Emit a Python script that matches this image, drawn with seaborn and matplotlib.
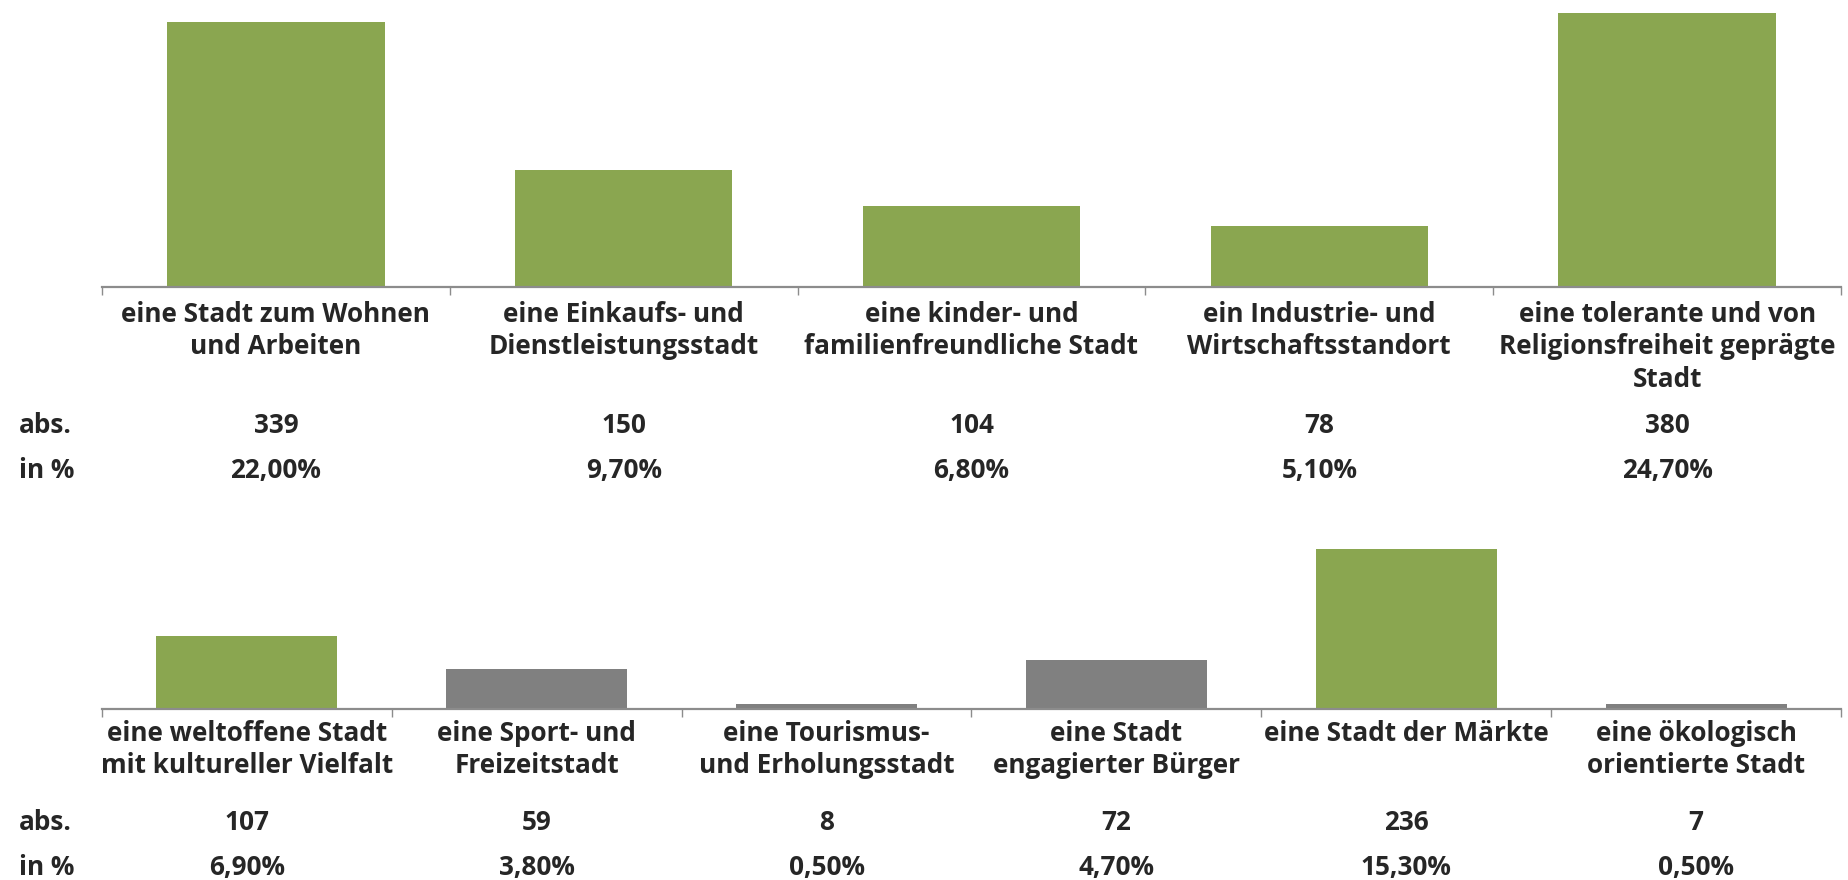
import matplotlib
matplotlib.use("Agg")
import matplotlib.pyplot as plt
import seaborn as sns
import pandas as pd
import numpy as np
from matplotlib.transforms import blended_transform_factory

# ---------------- data ----------------
top_categories = [
    "eine Stadt zum Wohnen\nund Arbeiten",
    "eine Einkaufs- und\nDienstleistungsstadt",
    "eine kinder- und\nfamilienfreundliche Stadt",
    "ein Industrie- und\nWirtschaftsstandort",
    "eine tolerante und von\nReligionsfreiheit geprägte\nStadt",
]
top_abs = [339, 150, 104, 78, 380]
top_pct = ["22,00%", "9,70%", "6,80%", "5,10%", "24,70%"]

bottom_categories = [
    "eine weltoffene Stadt\nmit kultureller Vielfalt",
    "eine Sport- und\nFreizeitstadt",
    "eine Tourismus-\nund Erholungsstadt",
    "eine Stadt\nengagierter Bürger",
    "eine Stadt der Märkte",
    "eine ökologisch\norientierte Stadt",
]
bottom_abs = [107, 59, 8, 72, 236, 7]
bottom_pct = ["6,90%", "3,80%", "0,50%", "4,70%", "15,30%", "0,50%"]
bottom_group = ["hoch", "niedrig", "niedrig", "niedrig", "hoch", "niedrig"]

row_labels = ["abs.", "in %"]

# ---------------- style ----------------
GREEN = "#8AA650"
GRAY = "#808080"
AXIS = "#8C8C8C"
FS = 18.8

sns.set_style("white")
plt.rcParams["font.family"] = ["Open Sans", "DejaVu Sans"]
plt.rcParams["font.weight"] = "bold"

W, H = 1848, 880
fig = plt.figure(figsize=(W / 100, H / 100), dpi=100)

def fy(px):
    return 1 - px / H

left = 102 / W
width = (1841 - 102) / W

# top axes: baseline at 287px, top at 13px
ax1 = fig.add_axes([left, fy(287), width, (287 - 13) / H])
# bottom axes: baseline at 709px, top at 471px
ax2 = fig.add_axes([left, fy(709), width, (709 - 471) / H])

df_top = pd.DataFrame({"cat": top_categories, "abs": top_abs})
df_bot = pd.DataFrame({"cat": bottom_categories, "abs": bottom_abs, "grp": bottom_group})

sns.barplot(data=df_top, x="cat", y="abs", color=GREEN, saturation=1,
            width=0.625, ax=ax1, linewidth=0)
sns.barplot(data=df_bot, x="cat", y="abs", hue="grp",
            palette={"hoch": GREEN, "niedrig": GRAY}, saturation=1,
            width=0.625, dodge=False, legend=False, ax=ax2, linewidth=0)

for ax, n in ((ax1, len(top_categories)), (ax2, len(bottom_categories))):
    ax.set_xlim(-0.5, n - 0.5)
    ax.set_ylim(0, 350)
    for s in ("top", "right", "left"):
        ax.spines[s].set_visible(False)
    ax.spines["bottom"].set_color(AXIS)
    ax.spines["bottom"].set_linewidth(1.6)
    ax.set_xticks(np.arange(-0.5, n, 1.0))
    ax.set_xticklabels([])
    ax.set_yticks([])
    ax.tick_params(axis="x", direction="out", length=6, width=1, color=AXIS, bottom=True)
    ax.set_xlabel("")
    ax.set_ylabel("")
    ax.patch.set_alpha(0)

ASC = 0.76 * FS * 100 / 72  # ascent of first line in px

def annotate(ax, cats, absv, pct, y_cat, y_abs, y_pct):
    tr = blended_transform_factory(ax.transData, fig.transFigure)
    for i, (c, a, p) in enumerate(zip(cats, absv, pct)):
        fig.text(i, fy(y_cat - ASC), c, transform=tr, ha="center", va="top",
                 fontsize=FS, fontweight="bold", linespacing=1.25, multialignment="center")
        fig.text(i, fy(y_abs), str(a), transform=tr, ha="center", va="baseline",
                 fontsize=FS, fontweight="bold")
        fig.text(i, fy(y_pct), p, transform=tr, ha="center", va="baseline",
                 fontsize=FS, fontweight="bold")
    fig.text(19 / W, fy(y_abs), row_labels[0], ha="left", va="baseline",
             fontsize=FS, fontweight="bold")
    fig.text(19 / W, fy(y_pct), row_labels[1], ha="left", va="baseline",
             fontsize=FS, fontweight="bold")

annotate(ax1, top_categories, top_abs, top_pct, 321, 433, 478)
annotate(ax2, bottom_categories, bottom_abs, bottom_pct, 740, 830, 875)

fig.savefig("out.png", dpi=100, facecolor="white")
